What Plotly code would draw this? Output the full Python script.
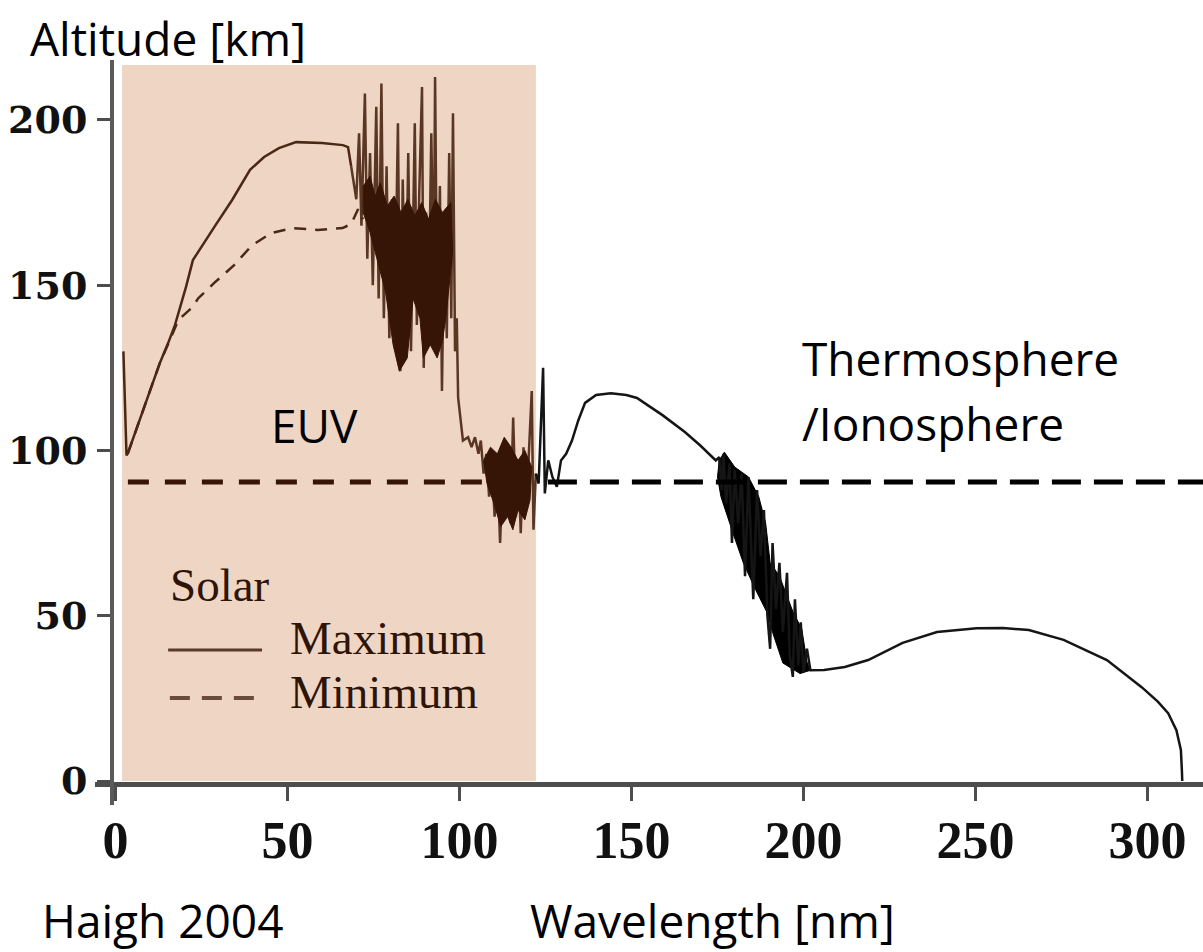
import plotly.graph_objects as go

# ---------------- data ----------------
# Solar maximum, smooth rising part in the EUV band
wl_max_rise = [2.3, 3.2, 3.6, 8.0, 10.9, 12.9, 15.3, 17.3, 20.5, 22.5, 28.7, 33.9,
               39.1, 43.2, 47.5, 52.5, 60.0, 66.1, 67.6, 68.5]
alt_max_rise = [130, 98.5, 99.2, 112, 120.4, 126.5, 132.5, 138, 149.5, 157.6, 167.6, 175.8,
                184.9, 188.8, 191.5, 193.3, 193.0, 192.4, 191.8, 186]

# Highly variable (line-structured) EUV part, 68-122 nm
wl_euv_var = [68.5, 69.3, 70.0, 70.8, 71.5, 72.5, 73.2, 74.0, 74.8, 75.8, 76.5, 77.3, 78.0,
              78.8, 79.6, 80.4, 81.2, 82.1, 82.8, 83.5, 84.3, 85.1, 85.9, 87.0, 87.6, 88.3,
              89.1, 89.6, 90.3, 91.0, 91.8, 92.5, 92.9, 93.6, 94.3, 94.9, 95.6, 96.3, 97.0,
              97.6, 98.1, 98.7, 99.2, 99.6, 100.0, 100.6, 101.0, 102.5, 103.5, 104.5, 105.5,
              106.2, 107.0, 107.8, 108.6, 109.4, 110.2, 111.0, 111.8, 112.5, 113.2, 114.0,
              114.8, 115.6, 116.4, 117.1, 117.8, 118.6, 119.4, 120.2, 121.0, 121.5, 122.2]
alt_euv_var = [186, 181, 176, 196, 168, 208, 158, 190, 150, 204, 146, 211, 140,
               186, 134, 176, 140, 199, 124, 182, 135, 190, 130, 199, 138, 178,
               210, 125, 172, 140, 196, 148, 213, 130, 180, 118, 172, 134, 190,
               140, 202, 130, 140, 116, 112, 106, 103, 104, 101, 104, 99,
               103, 93, 99, 86, 97, 80, 95, 72, 92, 84, 100,
               78, 110, 80, 97, 75, 101, 82, 100, 118, 76, 93]

# Dense cores of the variability (outline of the dark masses)
wl_core1 = [72.0, 74.0, 75.5, 77.0, 79.0, 81.0, 83.0, 85.0, 87.0, 89.0, 91.0, 93.0, 95.0, 97.5,
            98.0, 97.0, 96.0, 95.0, 93.5, 91.5, 89.5, 88.5, 86.5, 84.8, 82.5, 80.7, 78.5,
            76.0, 74.0, 72.0, 72.0]
alt_core1 = [180, 183, 177, 181, 174, 177, 172, 176, 171, 175, 170, 176, 172, 175,
             160, 150, 140, 133, 128, 132, 128, 140, 146, 128, 124, 132, 148,
             158, 166, 172, 180]
wl_core2 = [107.0, 109.0, 111.0, 113.0, 115.0, 117.0, 119.0, 121.0, 120.5, 119.0, 117.0,
            115.5, 114.0, 112.0, 110.0, 108.0, 107.0]
alt_core2 = [97, 101, 99, 104, 101, 97, 100, 95, 85, 79, 82, 76, 80, 77, 84, 90, 97]
wl_core3 = [175.5, 177.0, 180.0, 184.0, 187.0, 189.0, 190.3, 193.0, 197.0, 199.5, 201.0, 202.0,
            199.0, 194.0, 191.0, 189.4, 186.0, 182.5, 179.5, 177.0, 176.0, 175.0, 175.5]
alt_core3 = [97, 99.5, 95, 92, 86, 78, 66, 62, 51, 46, 36, 33.5,
             32.5, 35.7, 45, 51, 58, 66, 75, 83, 86, 92, 97]

# Beyond the EUV band (max and min coincide)
wl_uv = [122.2, 123.0, 124.3, 124.8, 125.8, 127.0, 128.3, 129.5, 131.0, 132.7, 134.5, 136.5,
         139.7, 144.0, 148.5, 151.6, 155.0, 159.0, 165.5, 170.0, 174.5, 175.5, 176.2, 176.7,
         177.5, 178.5, 179.2, 180.0, 181.0, 182.0, 183.0, 184.0, 185.4, 186.5, 187.5, 188.5,
         189.5, 190.3, 191.0, 192.0, 193.0, 194.0, 195.2, 196.0, 196.9, 197.5, 198.5, 199.2,
         200.0, 201.0, 202.0, 206.0, 212.0, 218.8, 228.8, 238.8, 250.3, 258.0, 265.5, 275.6,
         288.2, 298.3, 303.0, 306.0, 308.4, 309.7, 310.0, 310.1]
alt_uv = [93, 90, 125, 87, 97, 92, 89, 97, 99, 103, 109, 114.4,
          116.8, 117.3, 116.8, 115.9, 113.5, 110.7, 105.6, 101.5, 97.0, 98, 88, 99,
          84, 96, 72, 94, 78, 93, 62, 92, 55, 88, 68, 82,
          50, 40, 72, 52, 66, 45, 63, 38, 31.5, 55, 35, 48,
          33, 40, 33.5, 33.6, 34.5, 36.6, 41.8, 45.1, 46.2, 46.3, 45.7, 42.7,
          36.6, 28.4, 24.0, 20.5, 15.4, 9.4, 3.0, 0.0]

# Solar minimum (dashed) in the EUV band
wl_min = [3.6, 8.0, 12.9, 18.3, 22.5, 24.0, 28.7, 34.4, 39.6, 45.3, 51.6, 58.8, 66.0, 68.5, 70.5, 72.0]
alt_min = [99.2, 112, 126.5, 139.5, 143.5, 146, 150.7, 156, 162, 165.8, 167.3, 166.7, 167.3, 168.5, 173, 170]

# Thermosphere / mesosphere boundary (dashed horizontal)
boundary_alt = 90.5
boundary_euv_x = [3.6, 122.0]
boundary_uv_x = [125.7, 316.5]

# EUV band extent
euv_band = [1.9, 122.2]
band_top = 216.6

x_ticks = [0, 50, 100, 150, 200, 250, 300]
y_ticks = [0, 50, 100, 150, 200]

# ---------------- styles ----------------
BROWN = "#361506"
BROWN_LINE = "#4a2816"
SPIKE = "#5a3624"
BLACK = "#151515"
SHADE = "#EFD5C4"
AXIS = "#4d4d4d"
SANS = "Open Sans"

X0, X1 = -5.96, 316.13
Y0, Y1 = -7.26, 218.15

fig = go.Figure()

fig.add_shape(type="rect", xref="x", yref="y", x0=euv_band[0], x1=euv_band[1],
              y0=0, y1=band_top, fillcolor=SHADE, line_width=0, layer="below")

fig.add_trace(go.Scatter(x=wl_euv_var, y=alt_euv_var, mode="lines",
                         line=dict(color=SPIKE, width=2.5), showlegend=False))

for wx, wy, col in [(wl_core1, alt_core1, BROWN), (wl_core2, alt_core2, BROWN), (wl_core3, alt_core3, "#000000")]:
    fig.add_trace(go.Scatter(x=wx, y=wy, mode="lines", fill="toself", fillcolor=col,
                             line=dict(color=col, width=1), showlegend=False, hoverinfo="skip"))

fig.add_trace(go.Scatter(x=wl_max_rise, y=alt_max_rise, mode="lines",
                         line=dict(color=BROWN_LINE, width=2.5), showlegend=False))
fig.add_trace(go.Scatter(x=wl_min, y=alt_min, mode="lines",
                         line=dict(color=BROWN_LINE, width=2.5, dash="12px,9px"), showlegend=False))
fig.add_trace(go.Scatter(x=wl_uv, y=alt_uv, mode="lines",
                         line=dict(color=BLACK, width=2.5), showlegend=False))

fig.add_trace(go.Scatter(x=boundary_euv_x, y=[boundary_alt] * 2, mode="lines",
                         line=dict(color=BROWN, width=5, dash="21px,16px"), showlegend=False))
fig.add_trace(go.Scatter(x=boundary_uv_x, y=[boundary_alt] * 2, mode="lines",
                         line=dict(color="#000000", width=5, dash="29px,13px"), showlegend=False))

# hand-drawn legend of the original figure
fig.add_shape(type="line", xref="x", yref="y", x0=15.3, x1=42.6, y0=39.6, y1=39.6,
              line=dict(color="#5a3a2a", width=3))
fig.add_shape(type="line", xref="x", yref="y", x0=15.8, x1=41.3, y0=25.1, y1=25.1,
              line=dict(color="#6a4a3a", width=4, dash="20px,12px"))

serif = dict(family="Liberation Serif", size=47, color="#2e1405")
fig.add_annotation(text="Solar", xref="paper", yref="paper", x=0.0659, y=0.2953,
                   xanchor="left", yanchor="middle", showarrow=False, font=serif)
fig.add_annotation(text="Maximum", xref="paper", yref="paper", x=0.1742, y=0.2242,
                   xanchor="left", yanchor="middle", showarrow=False, font=serif)
fig.add_annotation(text="Minimum", xref="paper", yref="paper", x=0.1742, y=0.1517,
                   xanchor="left", yanchor="middle", showarrow=False, font=serif)

lab = dict(family=SANS, size=46, color="#000000")
fig.add_annotation(text="Altitude [km]", xref="paper", yref="paper", x=-0.0605, y=1.029,
                   xanchor="left", yanchor="middle", showarrow=False, font=lab)
fig.add_annotation(text="Haigh 2004", xref="paper", yref="paper", x=-0.0496, y=-0.155,
                   xanchor="left", yanchor="middle", showarrow=False, font=lab)
fig.add_annotation(text="Wavelength [nm]", xref="paper", yref="paper", x=0.3908, y=-0.155,
                   xanchor="left", yanchor="middle", showarrow=False, font=lab)
fig.add_annotation(text="EUV", xref="paper", yref="paper", x=0.1977, y=0.510,
                   xanchor="center", yanchor="middle", showarrow=False, font=lab)
fig.add_annotation(text="Thermosphere", xref="paper", yref="paper", x=0.6363, y=0.600,
                   xanchor="left", yanchor="middle", showarrow=False, font=lab)
fig.add_annotation(text="/Ionosphere", xref="paper", yref="paper", x=0.6363, y=0.5128,
                   xanchor="left", yanchor="middle", showarrow=False, font=lab)

fig.update_layout(
    width=1203, height=952,
    margin=dict(l=95, r=0, t=60, b=147, pad=0),
    paper_bgcolor="white", plot_bgcolor="white",
    xaxis=dict(range=[X0, X1], tickvals=x_ticks, ticktext=[str(v) for v in x_ticks],
               ticks="outside", ticklen=14, tickwidth=3, tickcolor=AXIS,
               showline=True, linecolor=AXIS, linewidth=5,
               anchor="free", position=0.02817, showgrid=False, zeroline=False,
               ticklabelstandoff=-5,
               tickfont=dict(family="Liberation Serif", size=52, weight="bold", color="#111111")),
    yaxis=dict(range=[Y0, Y1], tickvals=y_ticks, ticktext=[str(v) for v in y_ticks],
               ticks="outside", ticklen=13, tickwidth=3, tickcolor=AXIS,
               showline=True, linecolor="#5a5a5a", linewidth=4,
               anchor="free", position=0.01534, showgrid=False, zeroline=False,
               ticklabelstandoff=2,
               tickfont=dict(family="DejaVu Serif", size=38, weight="bold", color="#111111")),
)

fig.write_html("out.html")
